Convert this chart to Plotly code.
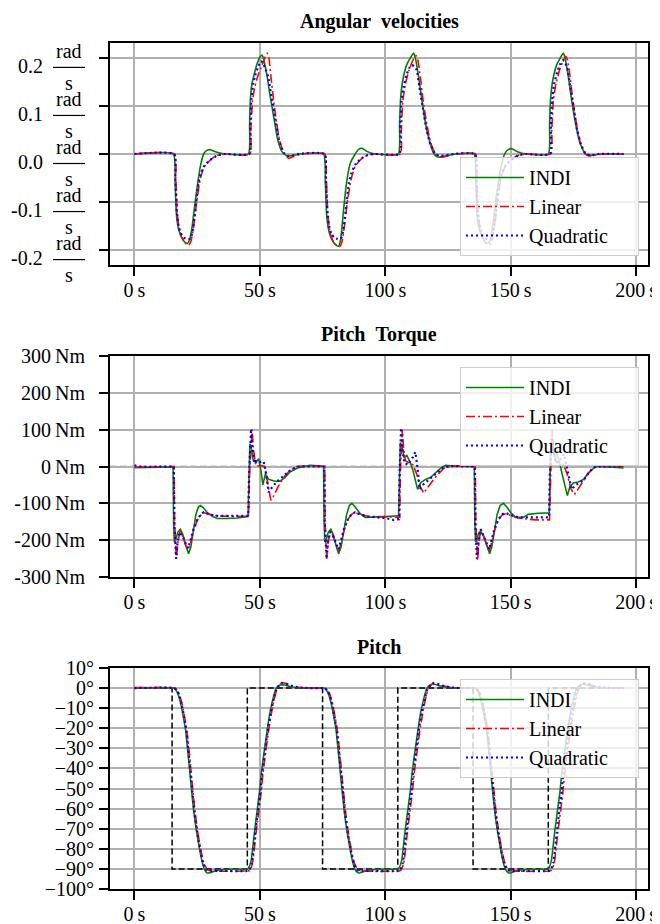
import plotly.graph_objects as go

FONT = "Liberation Serif"
GREEN, RED, BLUE = "#008000", "#ff0000", "#0000ff"

# ---------------- time axis ticks ----------------
time_ticks = [0, 50, 100, 150, 200]
time_ticktext = ["0\u2009s", "50\u2009s", "100\u2009s", "150\u2009s", "200\u2009s"]

# ---------------- angular velocity (rad/s) ----------------
ang_ticks = [0.2, 0.1, 0.0, -0.1, -0.2]
ang_ticktext = ["0.2", "0.1", "0.0", "-0.1", "-0.2"]

ang_indi_t = [0, 15.5, 16.2, 16.7, 17.4, 18.3, 19.5, 20.5, 21.2, 22, 23, 24.3, 25.6, 26.5, 27.6, 29, 30.3, 32, 35, 45.4,
              45.9, 46.2, 46.8, 47.5, 48.9, 50.2, 50.9, 51.6, 52.9, 54.2, 55.5, 57.1, 58.8, 60.5, 62, 64, 66, 75.4,
              76.1, 76.6, 77.3, 78.2, 79.4, 80.5, 81.4, 82.2, 83.4, 84.5, 86, 88, 89.5, 90.7, 92.5, 95, 105.2,
              105.7, 106.1, 107, 108.5, 110, 111.3, 112, 113.3, 114.6, 116, 117.5, 119.2, 120.6, 123, 125, 128, 135.4,
              136.1, 136.6, 137.3, 138.2, 139.4, 140.5, 141.3, 142.2, 143.3, 144.5, 146, 147.6, 149, 150.5, 152.5, 155, 165,
              165.5, 165.9, 166.8, 168.3, 169.8, 171, 171.7, 173, 174.3, 175.8, 177.5, 179.5, 181, 183, 186, 195]
ang_indi = [0, 0, -0.06, -0.124, -0.152, -0.168, -0.18, -0.185, -0.186, -0.178, -0.151, -0.096, -0.047, -0.02, 0, 0.008, 0.009, 0.005, 0.001, 0,
            0.06, 0.112, 0.145, 0.161, 0.188, 0.203, 0.206, 0.195, 0.161, 0.118, 0.078, 0.03, 0.005, -0.003, -0.004, -0.002, 0, 0,
            -0.06, -0.124, -0.155, -0.172, -0.184, -0.19, -0.192, -0.178, -0.115, -0.062, -0.02, 0, 0.01, 0.012, 0.006, 0.001, 0,
            0.06, 0.115, 0.154, 0.185, 0.2, 0.21, 0.2, 0.16, 0.112, 0.065, 0.03, 0.002, -0.006, -0.006, -0.003, 0, 0,
            -0.06, -0.124, -0.152, -0.168, -0.18, -0.186, -0.184, -0.172, -0.13, -0.08, -0.03, 0, 0.009, 0.011, 0.005, 0.001, 0,
            0.06, 0.115, 0.154, 0.185, 0.2, 0.21, 0.2, 0.16, 0.112, 0.065, 0.025, 0.002, -0.003, -0.002, 0, 0]

ang_lin_t = [0, 16, 16.5, 17.1, 17.8, 18.6, 20, 21.6, 22.5, 23.5, 24.8, 26.3, 27.9, 30.3, 33, 36, 46,
             46.4, 47.1, 48, 49.1, 50.5, 52, 52.9, 53.6, 54.4, 55.3, 56.3, 57.8, 59.5, 61.5, 63.5, 67, 75.9,
             76.5, 77.1, 77.8, 78.6, 80, 81.8, 82.7, 83.7, 85, 86.5, 88, 90.5, 93, 96, 106,
             106.4, 107, 108, 109.5, 111, 112.3, 113, 114, 115, 116.3, 118, 120, 121.5, 124, 128, 136,
             136.5, 137.1, 137.8, 138.6, 140, 141.5, 142.4, 143.4, 144.7, 146.2, 147.8, 150.2, 153, 156, 166,
             166.4, 167, 168, 169.5, 171, 172, 172.7, 173.7, 174.7, 176, 177.7, 179.7, 181.5, 184, 187, 195]
ang_lin = [0, 0, -0.05, -0.124, -0.155, -0.17, -0.184, -0.19, -0.182, -0.155, -0.1, -0.05, -0.026, -0.012, -0.003, 0, 0,
           0.05, 0.112, 0.14, 0.161, 0.18, 0.2, 0.21, 0.2, 0.161, 0.12, 0.078, 0.03, 0.002, -0.009, -0.005, 0, 0,
           -0.05, -0.124, -0.158, -0.175, -0.187, -0.193, -0.183, -0.15, -0.095, -0.05, -0.025, -0.01, -0.002, 0, 0,
           0.05, 0.11, 0.145, 0.175, 0.195, 0.205, 0.195, 0.16, 0.115, 0.07, 0.025, 0, -0.005, -0.005, 0, 0,
           -0.05, -0.124, -0.155, -0.17, -0.184, -0.19, -0.182, -0.155, -0.1, -0.05, -0.026, -0.012, -0.003, 0, 0,
           0.05, 0.11, 0.145, 0.175, 0.195, 0.203, 0.195, 0.16, 0.115, 0.07, 0.025, 0, -0.004, -0.002, 0, 0]

ang_quad_t = [0, 15.8, 16.3, 16.9, 17.6, 18.5, 19.6, 20.5, 22.3, 23.2, 24.3, 25.5, 26.5, 27.9, 30.3, 33, 36, 45.8,
              46.2, 46.6, 47.3, 48, 49.2, 50.4, 51.2, 52, 53.3, 54.6, 56, 57.6, 59.5, 61, 63, 65, 75.8,
              76.3, 76.9, 77.6, 78.5, 79.6, 80.5, 82.3, 83.2, 84.3, 85.5, 86.5, 88, 90.3, 93, 96, 105.6,
              106, 106.5, 107.3, 108.5, 109.7, 110.5, 111.5, 112.5, 113.6, 115, 116.5, 118, 120, 121.5, 124, 127, 135.8,
              136.3, 136.9, 137.6, 138.5, 139.6, 140.5, 142.3, 143.2, 144.3, 145.5, 146.5, 147.9, 150.3, 153, 156, 165.6,
              166, 166.5, 167.3, 168.5, 169.8, 170.7, 171.5, 172.5, 173.6, 175, 176.5, 178, 180, 182, 185, 195]
ang_quad = [0, 0, -0.05, -0.12, -0.15, -0.165, -0.174, -0.176, -0.176, -0.16, -0.115, -0.06, -0.04, -0.024, -0.012, -0.003, 0, 0,
            0.06, 0.112, 0.145, 0.161, 0.18, 0.193, 0.19, 0.18, 0.161, 0.12, 0.078, 0.03, 0.003, -0.004, -0.003, 0, 0,
            -0.05, -0.12, -0.15, -0.166, -0.174, -0.176, -0.176, -0.16, -0.115, -0.06, -0.04, -0.022, -0.01, -0.002, 0, 0,
            0.06, 0.11, 0.14, 0.165, 0.18, 0.185, 0.183, 0.175, 0.14, 0.095, 0.05, 0.02, 0, -0.004, -0.003, 0, 0,
            -0.05, -0.12, -0.15, -0.165, -0.174, -0.177, -0.177, -0.16, -0.115, -0.06, -0.04, -0.024, -0.012, -0.003, 0, 0,
            0.06, 0.11, 0.145, 0.17, 0.188, 0.195, 0.192, 0.18, 0.145, 0.1, 0.05, 0.02, 0, -0.003, 0, 0]

# ---------------- pitch torque (Nm) ----------------
trq_ticks = [300, 200, 100, 0, -100, -200, -300]
trq_ticktext = ["300\u2009Nm", "200\u2009Nm", "100\u2009Nm", "0\u2009Nm", "-100\u2009Nm", "-200\u2009Nm", "-300\u2009Nm"]

trq_indi_t = [0, 5, 10, 15.4, 15.6, 15.9, 16.4, 17.3, 18.3, 19.3, 20.5, 21.6, 22.5, 23.5, 24.5, 25.5, 26.3, 27.5, 29, 31, 33, 37, 41, 45.3,
              45.6, 46, 46.6, 47.4, 48.5, 49.5, 50.4, 51.2, 52.2, 53.5, 56, 58, 60, 62, 65, 68, 70, 75,
              75.4, 75.6, 75.9, 76.4, 77.3, 78.3, 79.3, 80.4, 81.4, 82.4, 83.5, 84.6, 85.7, 86.7, 88, 90, 92, 96, 100, 105.3,
              105.6, 106, 106.7, 107.5, 108.6, 110, 111, 112.9, 114, 116, 118, 120, 122, 124, 126, 135,
              135.5, 135.7, 136, 136.5, 137.3, 138, 139.3, 140.5, 141.6, 142.5, 143.5, 144.6, 145.8, 147.1, 148.5, 150, 152, 155, 157, 161, 165.4,
              165.7, 166, 166.7, 167.6, 168.4, 169.5, 170.5, 172.6, 173.6, 175, 177, 179, 181, 183, 185, 190, 195]
trq_indi = [-3, -2, -3, -1, -150, -205, -200, -178, -170, -185, -215, -237, -218, -170, -130, -110, -106, -112, -125, -135, -141, -141, -140, -136,
            -30, 62, 50, 15, 12, 21, -10, -50, -20, -35, -40, -40, -30, -15, -4, 0, 3, 1,
            0, -150, -205, -200, -178, -170, -185, -215, -237, -218, -170, -130, -106, -100, -110, -128, -138, -138, -136, -134,
            -30, 65, 55, 25, 30, 10, -10, -62, -45, -35, -30, -18, -5, 3, 2, 0,
            0, -150, -205, -200, -180, -175, -190, -215, -237, -218, -170, -130, -106, -100, -110, -125, -138, -138, -130, -127, -126,
            -30, 68, 55, 30, 34, 10, -20, -79, -55, -45, -42, -35, -18, -5, 1, -2, -4]

trq_lin_t = [0, 15.8, 16.0, 16.7, 17.4, 18.3, 19.5, 20.5, 21.4, 22.3, 23.5, 25, 26.5, 27.6, 30, 33, 40, 45.5,
             45.9, 46.5, 46.9, 47.4, 48.2, 48.8, 50, 51.9, 53, 54.4, 55.5, 57.5, 60, 62, 64.7, 68, 75,
             75.9, 76, 76.6, 77.3, 78.3, 79.5, 80.5, 81.4, 82.3, 83.5, 85, 86.5, 88, 90, 93, 100, 105.8,
             106, 106.4, 106.8, 107.3, 108, 109.5, 111, 112.5, 114, 115.3, 116.5, 118, 120.5, 123.3, 126, 135,
             135.9, 136.1, 136.8, 137.4, 138.2, 139.5, 140.5, 141.4, 142.3, 143.5, 145, 146.5, 148, 150, 153, 157, 160, 165.5,
             165.9, 166.3, 166.6, 167.1, 168, 169.5, 171, 172.5, 174, 175.4, 176.5, 179, 181, 183, 186, 195]
trq_lin = [-2, 0, -150, -251, -200, -175, -195, -215, -225, -210, -175, -147, -132, -125, -130, -134, -136, -135,
           -20, 60, 100, 50, 10, 0, 3, 0, -45, -92, -80, -52, -25, -11, 0, 2, 0,
           0, -150, -251, -200, -175, -195, -215, -230, -210, -175, -145, -130, -125, -130, -135, -136, -138,
           -20, 60, 100, 50, 17, 8, 5, -20, -55, -72, -60, -47, -25, -5, 1, 0,
           0, -150, -255, -200, -170, -195, -215, -228, -210, -175, -147, -132, -128, -133, -140, -143, -145, -145,
           -20, 60, 100, 50, 15, 8, 5, -20, -60, -76, -65, -38, -18, -3, 0, 0]

trq_quad_t = [0, 3, 15.7, 15.9, 16.6, 17.2, 18, 19.3, 20.5, 21.3, 22.2, 23.5, 25, 26.5, 27.6, 30, 33, 40, 45.4,
              45.7, 46.2, 46.5, 47, 48, 48.6, 50, 51.5, 52.5, 53.5, 55, 57, 60, 62, 65, 75,
              75.7, 75.9, 76.6, 77.2, 78, 79.3, 80.5, 81.3, 82.2, 83.5, 85, 86.5, 88, 90, 93, 100, 103.3, 105.5,
              105.7, 106, 106.3, 106.8, 107.6, 109, 111, 112, 112.8, 113.7, 115, 117, 120, 123, 126, 135,
              135.7, 135.9, 136.5, 137.2, 138, 139.3, 140.5, 141.4, 142.2, 143.5, 145, 146.5, 148, 150, 153, 157, 160, 165.3,
              165.6, 166, 166.4, 167, 168, 169.5, 171.2, 172.3, 174.3, 176, 179, 181, 183, 186, 195]
trq_quad = [3, -1, 0, -150, -250, -205, -178, -190, -210, -222, -205, -170, -145, -130, -124, -130, -134, -135, -134,
            -20, 60, 102, 50, 8, 15, 12, 14, -20, -70, -55, -40, -22, -11, 0, 0,
            0, -150, -250, -205, -178, -190, -210, -225, -205, -170, -145, -130, -124, -130, -136, -140, -145, -143,
            -20, 60, 105, 50, 10, 5, 25, 39, 0, -62, -50, -38, -20, -3, 1, 0,
            0, -150, -250, -205, -170, -190, -210, -225, -205, -170, -145, -130, -126, -132, -138, -138, -138, -138,
            -20, 50, 80, 40, 10, 15, 34, 0, -62, -50, -38, -18, -2, 0, 0]

# ---------------- pitch (deg) ----------------
pitch_ticks = [10, 0, -10, -20, -30, -40, -50, -60, -70, -80, -90, -100]
pitch_ticktext = ["10°", "0°", "−10°", "−20°", "−30°", "−40°", "−50°", "−60°", "−70°", "−80°", "−90°", "−100°"]

sp_t = [0, 15, 15, 45, 45, 75, 75, 105, 105, 135, 135, 165, 165, 195]
sp_pitch = [0, 0, -90, -90, 0, 0, -90, -90, 0, 0, -90, -90, 0, 0]

pitch_indi_t = [0, 15.5, 16.5, 17.5, 18.5, 19.5, 20.4, 22, 23.6, 24.7, 26, 27.1, 28, 29, 30.5, 32, 34, 38, 45,
                45.5, 46.5, 47.9, 49.9, 50.6, 52.9, 54.2, 55.5, 56.5, 58, 60, 62, 65, 68, 75,
                75.5, 76.5, 77.5, 78.5, 79.5, 80.4, 82, 83.6, 84.7, 86, 87.1, 88, 89.2, 90.5, 92, 94, 98, 105,
                105.5, 106.5, 107.9, 110, 110.7, 113, 114.3, 115.6, 116.6, 118.2, 120, 122, 125, 128, 135,
                135.5, 136.5, 137.5, 138.5, 139.5, 140.4, 142, 143.6, 144.7, 146, 147.1, 148, 149.1, 150.5, 152, 154, 158, 165,
                165.3, 166.2, 167.6, 169.7, 170.4, 172.7, 174, 175.3, 176.3, 178, 180, 182, 185, 188, 195]
pitch_indi = [0, 0, -1, -3.5, -8, -14.5, -21, -41, -61, -71, -80.5, -87, -90.5, -92, -91.8, -91, -90.5, -90.2, -90,
              -89.5, -86, -71, -51, -42, -21, -11, -4, 0, 1.5, 1.5, 0.8, 0.2, 0, 0,
              0, -1, -3.5, -8, -14.5, -21, -41, -61, -71, -80.5, -87, -90.5, -92, -91.8, -91, -90.5, -90.2, -90,
              -89.5, -86, -71, -51, -42, -21, -11, -4, 0, 1.8, 1.8, 1, 0.3, 0, 0,
              0, -1, -3.5, -8, -14.5, -21, -41, -61, -71, -80.5, -87, -90.5, -92, -91.8, -91, -90.5, -90.2, -90,
              -89.5, -86, -71, -51, -42, -21, -11, -4, 0, 1.8, 1.8, 1, 0.3, 0, 0]

pitch_lin_t = [0, 5, 16, 17, 18, 19, 20, 21, 22.6, 24.2, 25.3, 26.6, 27.8, 29, 30.5, 35, 45,
               46, 47, 48.5, 50.5, 51.2, 53.4, 54.7, 56, 57, 58.8, 60.5, 63, 66, 70, 75,
               76, 77, 78, 79, 80, 81, 82.6, 84.2, 85.3, 86.6, 87.8, 89, 90.5, 95, 105.5,
               106.3, 107.3, 108.8, 110.8, 111.5, 113.7, 115, 116.3, 117.3, 119.3, 121, 123.5, 126.5, 130, 135,
               136, 137, 138, 139, 140, 141, 142.6, 144.2, 145.3, 146.6, 147.8, 149, 150.5, 155, 165.5,
               166.3, 167.3, 168.8, 170.8, 171.5, 173.7, 175, 176.3, 177.3, 179.3, 181, 183.5, 186.5, 190, 195]
pitch_lin = [0.3, 0.2, 0, -1, -3.5, -8, -14.5, -22, -42, -62, -72, -81.5, -87.5, -90.2, -91, -91.2, -91,
             -90.8, -87.5, -72, -52, -43, -22, -12, -4, 0, 2.8, 2.3, 1, 0.3, 0, 0,
             0, -1, -3.5, -8, -14.5, -22, -42, -62, -72, -81.5, -87.5, -90.2, -91, -91.2, -91,
             -90.5, -87.5, -72, -52, -43, -22, -12, -4, 0, 2.6, 2.2, 1, 0.3, 0, 0,
             0, -1, -3.5, -8, -14.5, -22, -42, -62, -72, -81.5, -87.5, -90.2, -91, -91.2, -91,
             -90.5, -87.5, -72, -52, -43, -22, -12, -4, 0, 2.6, 2.2, 1, 0.3, 0, 0]

pitch_quad_t = [0, 15.8, 16.8, 17.8, 18.8, 19.8, 20.7, 22.3, 23.9, 25, 26.3, 27.4, 28.5, 29.6, 31, 35, 45,
                45.8, 46.8, 48.2, 50.2, 50.9, 53.1, 54.4, 55.8, 56.8, 58.8, 60.5, 63, 66, 70, 75,
                75.8, 76.8, 77.8, 78.8, 79.8, 80.7, 82.3, 83.9, 85, 86.3, 87.4, 88.5, 89.6, 91, 95, 105.3,
                106, 107, 108.4, 110.4, 111.1, 113.3, 114.6, 116, 117, 119, 121, 123.5, 126.5, 130, 135,
                135.8, 136.8, 137.8, 138.8, 139.8, 140.7, 142.3, 143.9, 145, 146.3, 147.4, 148.5, 149.6, 151, 155, 165.3,
                166, 167, 168.4, 170.3, 171, 173.2, 174.5, 175.8, 176.8, 178.8, 180.5, 183, 186, 190, 195]
pitch_quad = [0, 0, -1, -3.5, -8, -14.5, -21.5, -41.5, -61.5, -71.5, -81, -87.2, -90.2, -91, -91, -91, -91,
              -90.5, -87, -71.5, -51.5, -42.5, -21.5, -11.5, -4, 0, 2.5, 2.1, 1, 0.3, 0, 0,
              0, -1, -3.5, -8, -14.5, -21.5, -41.5, -61.5, -71.5, -81, -87.2, -90.2, -91, -91, -91, -91,
              -90.5, -87, -71.5, -51.5, -42.5, -21.5, -11.5, -4, 0, 2.4, 2, 1, 0.3, 0, 0,
              0, -1, -3.5, -8, -14.5, -21.5, -41.5, -61.5, -71.5, -81, -87.2, -90.2, -91, -91, -91, -91,
              -90.5, -87, -71.5, -51.5, -42.5, -21.5, -11.5, -4, 0, 2.4, 2, 1, 0.3, 0, 0]

series_names = ["INDI", "Linear", "Quadratic"]

# ---------------- layout geometry ----------------
# the page body has an 8 px margin, so the figure is drawn 8 px smaller and offset
OFF = 8
W, H = 660 - OFF, 924 - OFF
ML, MR, MT, MB = 110 - OFF, 12, 43 - OFF, 35
PW = W - ML - MR
PH = H - MT - MB


def px_x(p):
    return (p - OFF - ML) / PW


def px_y(p):
    return (H - MB - (p - OFF)) / PH


dom1 = [px_y(265), 1.0]
dom2 = [px_y(577), px_y(356)]
dom3 = [0.0, px_y(668)]

fig = go.Figure()

styles = [(GREEN, "solid", 1.6), (RED, "9px,3px,2px,3px", 1.6), (BLUE, "2px,3px", 2.2)]
PAD = "\u00a0" * 5


def add_set(ts, ys, xa, ya, leg, shape):
    for (col, dash, w), name, t, y in zip(styles, series_names, ts, ys):
        fig.add_trace(go.Scatter(x=t, y=y, mode="lines", name=name + PAD, xaxis=xa, yaxis=ya, legend=leg,
                                 line=dict(color=col, dash=dash, width=w, shape=shape, smoothing=0.5)))


add_set([ang_indi_t, ang_lin_t, ang_quad_t], [ang_indi, ang_lin, ang_quad], "x", "y", "legend", "spline")
add_set([trq_indi_t, trq_lin_t, trq_quad_t], [trq_indi, trq_lin, trq_quad], "x2", "y2", "legend2", "linear")
fig.add_trace(go.Scatter(x=sp_t, y=sp_pitch, mode="lines", showlegend=False, xaxis="x3", yaxis="y3",
                         line=dict(color="black", dash="6px,3px", width=1.5)))
add_set([pitch_indi_t, pitch_lin_t, pitch_quad_t], [pitch_indi, pitch_lin, pitch_quad], "x3", "y3", "legend3", "spline")

tickfont = dict(family=FONT, size=20, color="black")
common_x = dict(range=[-9.75, 204.75], tickvals=time_ticks, ticktext=time_ticktext, showgrid=True,
                gridcolor="#b0b0b0", gridwidth=1.6, ticks="outside", ticklen=9, tickwidth=1.6, tickcolor="black",
                showline=True, linecolor="black", linewidth=2, mirror=True, zeroline=False, tickfont=tickfont,
                ticklabelstandoff=-3, automargin=False)
common_y = dict(showgrid=True, gridcolor="#b0b0b0", gridwidth=1.6, ticks="outside", ticklen=9, tickwidth=1.6,
                tickcolor="black", showline=True, linecolor="black", linewidth=2, mirror=True, zeroline=False,
                tickfont=tickfont, automargin=False)

legend_common = dict(font=dict(family=FONT, size=20, color="black"), bgcolor="rgba(255,255,255,0.8)",
                     bordercolor="#cccccc", borderwidth=1, xanchor="left", yanchor="top", itemwidth=58,
                     tracegroupgap=0)

fig.update_layout(
    width=W, height=H, margin=dict(l=ML, r=MR, t=MT, b=MB, autoexpand=False), plot_bgcolor="white",
    paper_bgcolor="white",
    font=dict(family=FONT, size=20, color="black"),
    xaxis=dict(anchor="y", domain=[0, 1], **common_x),
    yaxis=dict(anchor="x", domain=dom1, range=[-0.231, 0.231], tickvals=ang_ticks, showticklabels=False, **common_y),
    xaxis2=dict(anchor="y2", domain=[0, 1], **common_x),
    yaxis2=dict(anchor="x2", domain=dom2, range=[-300, 300], tickvals=trq_ticks, ticktext=trq_ticktext,
                ticklabelstandoff=10, **common_y),
    xaxis3=dict(anchor="y3", domain=[0, 1], **common_x),
    yaxis3=dict(anchor="x3", domain=dom3, range=[-100, 10], tickvals=pitch_ticks, ticktext=pitch_ticktext,
                ticklabelstandoff=1, **common_y),
    legend=dict(x=px_x(460), y=px_y(157), **legend_common),
    legend2=dict(x=px_x(460), y=px_y(367), **legend_common),
    legend3=dict(x=px_x(460), y=px_y(679), **legend_common),
    showlegend=True,
)

# zero reference lines
for xr, yr in [("x domain", "y"), ("x2 domain", "y2")]:
    fig.add_shape(type="line", xref=xr, yref=yr, x0=0, x1=1, y0=0, y1=0, layer="below",
                  line=dict(color="#808080", width=1.5, dash="7px,3px"))

# fraction tick labels for angular velocity
for v, txt in zip(ang_ticks, ang_ticktext):
    fig.add_annotation(x=px_x(45), xref="paper", y=v, yref="y", text=txt, xanchor="right", showarrow=False,
                       yshift=-8, font=tickfont)
    fig.add_annotation(x=px_x(69), xref="paper", y=v, yref="y", text="rad", xanchor="center", showarrow=False,
                       yshift=7, font=tickfont)
    fig.add_annotation(x=px_x(69), xref="paper", y=v, yref="y", text="s", xanchor="center", showarrow=False,
                       yshift=-25, font=tickfont)
    fig.add_shape(type="line", xref="paper", yref="y", x0=px_x(53), x1=px_x(85), ysizemode="pixel", yanchor=v,
                  y0=-9.5, y1=-9.5, line=dict(color="black", width=1.2))

# panel titles
for title, top in [("Angular&nbsp;&nbsp;velocities", dom1[1]), ("Pitch&nbsp;&nbsp;Torque", dom2[1]), ("Pitch", dom3[1])]:
    fig.add_annotation(x=0.5, xref="paper", y=top, yref="paper", text="<b>" + title + "</b>", showarrow=False,
                       xanchor="center", yanchor="bottom", yshift=8, font=dict(family=FONT, size=20, color="black"))

fig.write_html("out.html")
